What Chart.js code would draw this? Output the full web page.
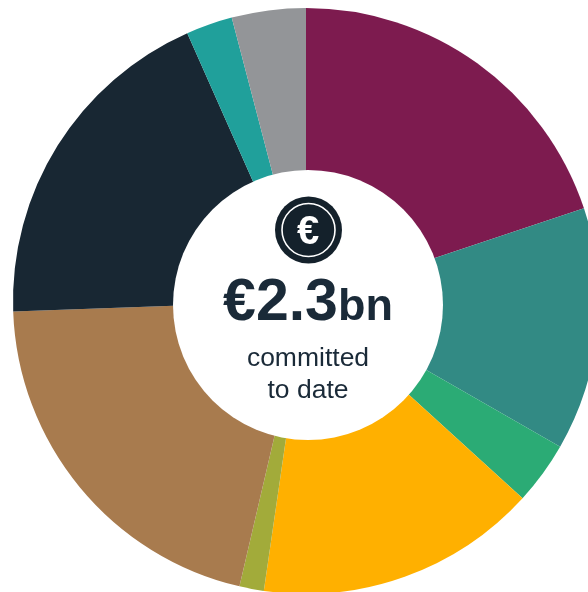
<!DOCTYPE html>
<html>
<head>
<meta charset="utf-8">
<script src="https://cdn.jsdelivr.net/npm/chart.js"></script>
<style>
html,body{margin:0;padding:0;background:#fff;width:588px;height:592px;overflow:hidden}
#wrap{position:relative;width:588px;height:592px;overflow:hidden;font-family:"Liberation Sans",Arial,sans-serif;color:#1a2a38}
#box{position:absolute;left:0;top:0;width:612px;height:602px}
.t{position:absolute;left:0;width:616px;text-align:center;white-space:nowrap}
#big{top:262px;font-size:59px;font-weight:bold;line-height:76px}
#big span{font-size:45px}
.sub{font-size:26.5px;line-height:32px}
#euro{top:207px;font-size:40px;font-weight:bold;line-height:46px;color:#fff}
</style>
</head>
<body>
<div id="wrap">
  <div id="box"><canvas id="myChart"></canvas></div>
  <div class="t" id="euro">€</div>
  <div class="t" id="big">€2.3<span>bn</span></div>
  <div class="t sub" style="top:341px">committed</div>
  <div class="t sub" style="top:373px">to date</div>
</div>
<script>
// share of 2.3bn in €m
const categories = ['A','B','C','D','E','F','G','H','I']
const values = [458,309,80,358,31,479,436,59,94]
const colores = ['#7d1b4f','#328a84','#2bab75','#ffb000','#a2ab3a','#a87b4e','#182733','#20a09b','#939598']

// agujero e icono, van un poco descentrados respecto a la tarta
const centro = {
  id: 'centro',
  afterDraw(chart){
    const c = chart.ctx
    c.save()
    c.fillStyle = '#fff'
    c.beginPath()
    c.arc(308,305,135,0,Math.PI*2)
    c.fill()
    c.fillStyle = '#14212b'
    c.beginPath()
    c.arc(308.5,230,33.5,0,Math.PI*2)
    c.fill()
    c.strokeStyle = '#fff'
    c.lineWidth = 1.6
    c.beginPath()
    c.arc(308.5,230,26.5,0,Math.PI*2)
    c.stroke()
    c.restore()
  }
}

new Chart('myChart',{
  type: 'doughnut',
  data: {
    labels: categories,
    datasets: [{
      data: values,
      backgroundColor: colores,
      borderWidth: 0
    }]
  },
  options: {
    responsive: true,
    maintainAspectRatio: false,
    animation: false,
    cutout: 0,
    layout: {padding: 8},
    plugins: {
      legend: {display: false},
      tooltip: {enabled: false}
    }
  },
  plugins: [centro]
})
</script>
</body>
</html>
